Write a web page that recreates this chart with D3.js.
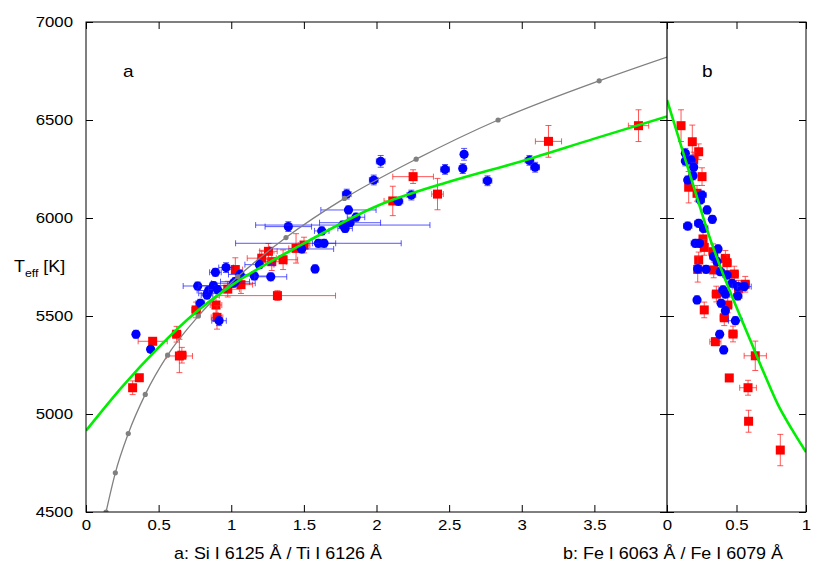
<!DOCTYPE html>
<html><head><meta charset="utf-8">
<script src="https://cdn.jsdelivr.net/npm/d3@7"></script>
<style>body{margin:0;background:#fff}svg{display:block}text{font-family:"Liberation Sans",Arial,sans-serif;fill:#000}</style>
</head><body><div id="c"></div>
<script>
// ---------- data ----------
const yTicks = [4500, 5000, 5500, 6000, 6500, 7000];
const xTicksA = [0, 0.5, 1, 1.5, 2, 2.5, 3, 3.5];
const xTicksB = [0, 0.5, 1];
const xLabelA = "a: Si I 6125 Å / Ti I 6126 Å";
const xLabelB = "b: Fe I 6063 Å / Fe I 6079 Å";

// panel a, blue: [ratio, Teff, xerr, Terr]
const blueA = [
 [0.344,5407,0.02,20],[0.445,5330,0.02,15],[0.916,5476,0.05,25],[0.787,5565,0.03,20],
 [0.833,5607,0.04,20],[0.769,5653,0.10,20],[0.891,5723,0.04,20],[0.964,5747,0.05,25],
 [1.061,5712,0.08,20],[1.159,5704,0.12,20],[1.272,5700,0.11,20],[1.194,5762,0.10,20],
 [1.015,5667,0.15,20],[0.836,5616,0.06,20],[0.845,5630,0.08,20],[0.877,5655,0.10,20],
 [0.905,5635,0.06,20],[1.026,5675,0.10,20],
 [1.393,5956,0.16,25],[1.485,5842,0.22,20],[1.577,5740,0.02,20],[1.600,5871,0.57,20],
 [1.639,5871,0.08,20],[1.623,5934,0.05,20],[1.768,5964,0.60,20],[1.784,5947,0.05,20],
 [1.818,5976,0.21,20],[1.859,6004,0.06,20],[1.807,6041,0.19,20],[1.795,6122,0.03,25],
 [1.981,6194,0.03,25],[2.029,6289,0.03,30],[2.151,6085,0.03,20],[2.240,6117,0.03,25],
 [2.472,6248,0.03,25],[2.594,6252,0.02,25],[2.603,6325,0.02,30],[2.764,6190,0.03,25],
 [3.053,6294,0.03,25],[3.092,6259,0.03,25]
];
// panel a, red
const redA = [
 [0.321,5134,0.02,35],[0.367,5185,0.02,15],[0.459,5371,0.10,15],[0.624,5407,0.03,40],
 [0.643,5296,0.09,85],[0.660,5300,0.03,40],[0.758,5531,0.03,40],[0.895,5556,0.04,40],
 [0.902,5493,0.04,60],[0.976,5637,0.08,40],[1.067,5660,0.08,45],[1.028,5737,0.05,60],
 [1.318,5604,0.40,25],[1.256,5830,0.06,40],[1.279,5777,0.10,45],[1.357,5787,0.10,50],
 [1.210,5795,0.10,40],[1.446,5845,0.05,75],[1.501,5862,0.04,40],[2.112,6087,0.06,75],
 [2.252,6211,0.14,35],[2.420,6122,0.04,80],[3.184,6391,0.09,81],[3.804,6471,0.07,81]
];
// panel b, blue
const blueB = [
 [0.132,6330,0.02,25],[0.132,6291,0.02,25],[0.173,6296,0.02,25],[0.192,6259,0.02,25],
 [0.187,6215,0.02,20],[0.149,6194,0.02,20],[0.252,6117,0.03,20],[0.240,6092,0.03,20],
 [0.288,6041,0.02,20],[0.326,5993,0.02,20],[0.149,5959,0.03,20],[0.228,5973,0.03,20],
 [0.264,5947,0.03,20],[0.204,5871,0.03,20],[0.233,5871,0.03,20],[0.367,5842,0.02,20],
 [0.336,5803,0.03,20],[0.221,5740,0.02,20],[0.281,5738,0.02,20],[0.360,5777,0.02,20],
 [0.384,5726,0.03,20],[0.432,5709,0.03,20],[0.468,5667,0.03,20],[0.509,5650,0.04,20],
 [0.556,5650,0.05,20],[0.403,5633,0.03,20],[0.420,5612,0.03,20],[0.509,5602,0.03,20],
 [0.216,5582,0.02,20],[0.389,5565,0.02,20],[0.420,5527,0.02,20],[0.492,5476,0.05,20],
 [0.379,5407,0.02,20],[0.408,5327,0.02,20]
];
// panel b, red
const redB = [
 [0.101,6471,0.02,81],[0.182,6389,0.02,85],[0.228,6338,0.02,40],[0.252,6211,0.02,45],
 [0.156,6157,0.02,80],[0.192,6296,0.02,40],[0.216,6126,0.02,40],[0.259,5893,0.02,40],
 [0.268,5850,0.02,40],[0.228,5786,0.02,40],[0.221,5738,0.02,65],[0.331,5828,0.03,40],
 [0.420,5794,0.03,40],[0.432,5772,0.03,40],[0.336,5735,0.03,40],[0.484,5714,0.03,40],
 [0.563,5662,0.03,40],[0.515,5641,0.03,40],[0.355,5612,0.03,40],[0.437,5556,0.03,40],
 [0.268,5531,0.02,40],[0.412,5491,0.03,40],[0.475,5408,0.03,40],[0.348,5369,0.04,20],
 [0.635,5297,0.08,75],[0.448,5184,0.02,15],[0.583,5134,0.06,38],[0.587,4963,0.02,56],
 [0.815,4816,0.02,80]
];
// calibration curve (gray) with markers every 200 K
const grayX = [0.138,0.202,0.291,0.408,0.562,0.774,1.045,1.377,1.779,2.273,2.837,3.533];
const grayT = [4500,4700,4900,5100,5300,5500,5700,5900,6100,6300,6500,6700];
const grayEnd = [4.0, 6821];
// fitted curves (green)
const fitAx = [0,0.25,0.5,0.75,1.0,1.5,2.0,2.5,3.0,3.5,4.0];
const fitAT = [4915,5140,5340,5515,5655,5870,6060,6185,6290,6405,6518];
const fitBx = [0,0.1,0.2,0.3,0.4,0.5,0.6,0.7,0.8,0.9,1.0];
const fitBT = [6602,6372,6142,5915,5720,5545,5375,5205,5045,4920,4806];

// ---------- layout ----------
const W=829,H=574, L=86, R=806, T=22, B=512, MID=667;
const SX=1.12; // horizontal text stretch
const svg=d3.select("#c").append("svg").attr("width",W).attr("height",H);
const xA=d3.scaleLinear().domain([0,4]).range([L,MID]);
const xB=d3.scaleLinear().domain([0,1]).range([MID,R]);
const y=d3.scaleLinear().domain([4500,7000]).range([B,T]);

const defs=svg.append("defs");
defs.append("clipPath").attr("id","clipA").append("rect").attr("x",L).attr("y",T).attr("width",MID-L).attr("height",B-T);
defs.append("clipPath").attr("id","clipB").append("rect").attr("x",MID).attr("y",T).attr("width",R-MID).attr("height",B-T);

function stext(x,yy,str,size,anchor){
  const g=svg.append("g").attr("transform",`translate(${x},${yy}) scale(${SX},1)`);
  return g.append("text").attr("x",0).attr("y",0).attr("font-size",size).attr("text-anchor",anchor||"start").text(str);
}

// axes
const TL=7;
function styleAxis(g){ g.select(".domain").remove(); g.selectAll(".tick line").attr("stroke","#000"); }
svg.append("g").attr("transform",`translate(${L},0)`).call(d3.axisLeft(y).tickValues(yTicks).tickSize(-TL).tickPadding(13).tickFormat(d3.format("d")))
  .call(styleAxis).call(g=>g.selectAll("text").attr("x",0).attr("font-size",15).attr("font-family","Liberation Sans, Arial, sans-serif")
  .attr("transform",`translate(-13,0) scale(${SX},1)`));
svg.append("g").attr("transform",`translate(${MID},0)`).call(d3.axisRight(y).tickValues(yTicks).tickSize(-TL).tickFormat("")).call(styleAxis);
svg.append("g").attr("transform",`translate(${MID},0)`).call(d3.axisLeft(y).tickValues(yTicks).tickSize(-TL).tickFormat("")).call(styleAxis);
svg.append("g").attr("transform",`translate(${R},0)`).call(d3.axisRight(y).tickValues(yTicks).tickSize(-TL).tickFormat("")).call(styleAxis);
const fmt=d=>String(d);
svg.append("g").attr("transform",`translate(0,${B})`).call(d3.axisBottom(xA).tickValues(xTicksA).tickSize(-TL).tickPadding(7).tickFormat(fmt))
  .call(styleAxis).call(g=>g.selectAll("text").attr("font-size",15).attr("font-family","Liberation Sans, Arial, sans-serif").attr("transform",`scale(${SX},1)`));
svg.append("g").attr("transform",`translate(0,${B})`).call(d3.axisBottom(xB).tickValues(xTicksB).tickSize(-TL).tickPadding(7).tickFormat(fmt))
  .call(styleAxis).call(g=>g.selectAll("text").attr("font-size",15).attr("font-family","Liberation Sans, Arial, sans-serif").attr("transform",`scale(${SX},1)`));
svg.append("g").attr("transform",`translate(0,${T})`).call(d3.axisTop(xA).tickValues(xTicksA).tickSize(-TL).tickFormat("")).call(styleAxis);
svg.append("g").attr("transform",`translate(0,${T})`).call(d3.axisTop(xB).tickValues(xTicksB).tickSize(-TL).tickFormat("")).call(styleAxis);

// data drawing
function drawSeries(gp, data, xs, col, barCol, shape){
  const g=gp.append("g");
  const cap=3;
  data.forEach(d=>{
    const cx=xs(d[0]), cy=y(d[1]), x0=xs(d[0]-d[2]), x1=xs(d[0]+d[2]), y0=y(d[1]-d[3]), y1=y(d[1]+d[3]);
    const e=g.append("g").attr("stroke",barCol).attr("stroke-width",1).attr("stroke-opacity",0.75);
    e.append("line").attr("x1",x0).attr("x2",x1).attr("y1",cy).attr("y2",cy);
    e.append("line").attr("x1",x0).attr("x2",x0).attr("y1",cy-cap).attr("y2",cy+cap);
    e.append("line").attr("x1",x1).attr("x2",x1).attr("y1",cy-cap).attr("y2",cy+cap);
    e.append("line").attr("x1",cx).attr("x2",cx).attr("y1",y0).attr("y2",y1);
    e.append("line").attr("x1",cx-cap).attr("x2",cx+cap).attr("y1",y0).attr("y2",y0);
    e.append("line").attr("x1",cx-cap).attr("x2",cx+cap).attr("y1",y1).attr("y2",y1);
    if(shape==="sq") g.append("rect").attr("x",cx-4.5).attr("y",cy-4.5).attr("width",9).attr("height",9).attr("fill",col);
    else g.append("circle").attr("cx",cx).attr("cy",cy).attr("r",4.6).attr("fill",col);
  });
}
const gA=svg.append("g").attr("clip-path","url(#clipA)");
const gB=svg.append("g").attr("clip-path","url(#clipB)");
drawSeries(gA, redA, xA, "#ff0000", "#ff2020", "sq");
drawSeries(gA, blueA, xA, "#0000ff", "#2020ff", "c");
drawSeries(gB, redB, xB, "#ff0000", "#ff2020", "sq");
drawSeries(gB, blueB, xB, "#0000ff", "#2020ff", "c");

// gray calibration curve
const grayPts=grayX.map((x,i)=>[x,grayT[i]]).concat([grayEnd]);
gA.append("path").attr("d",d3.line().x(d=>xA(d[0])).y(d=>y(d[1])).curve(d3.curveMonotoneX)(grayPts))
  .attr("fill","none").attr("stroke","#808080").attr("stroke-width",1.3);
gA.selectAll("circle.gm").data(grayX.map((x,i)=>[x,grayT[i]])).join("circle").attr("class","gm")
  .attr("cx",d=>xA(d[0])).attr("cy",d=>y(d[1])).attr("r",2.6).attr("fill","#808080");

// green fits
gA.append("path").attr("d",d3.line().x(d=>xA(d[0])).y(d=>y(d[1])).curve(d3.curveMonotoneX)(fitAx.map((x,i)=>[x,fitAT[i]])))
  .attr("fill","none").attr("stroke","#00ee00").attr("stroke-width",2.6);
gB.append("path").attr("d",d3.line().x(d=>xB(d[0])).y(d=>y(d[1])).curve(d3.curveMonotoneX)(fitBx.map((x,i)=>[x,fitBT[i]])))
  .attr("fill","none").attr("stroke","#00ee00").attr("stroke-width",2.6);

// frame
svg.append("rect").attr("x",L).attr("y",T).attr("width",R-L).attr("height",B-T).attr("fill","none").attr("stroke","#000").attr("stroke-width",1);
svg.append("line").attr("x1",MID).attr("x2",MID).attr("y1",T).attr("y2",B).attr("stroke","#000").attr("stroke-width",1.2);

// labels
stext(123,77,"a",17);
stext(702,77,"b",17);
stext(278,559,xLabelA,16,"middle");
stext(673,559,xLabelB,16,"middle");
const yl=svg.append("g").attr("transform",`translate(14,272) scale(${SX},1)`).append("text").attr("font-size",16);
yl.append("tspan").text("T");
yl.append("tspan").attr("font-size",11).attr("dy",5).text("eff");
yl.append("tspan").attr("dy",-5).text(" [K]");
</script></body></html>
